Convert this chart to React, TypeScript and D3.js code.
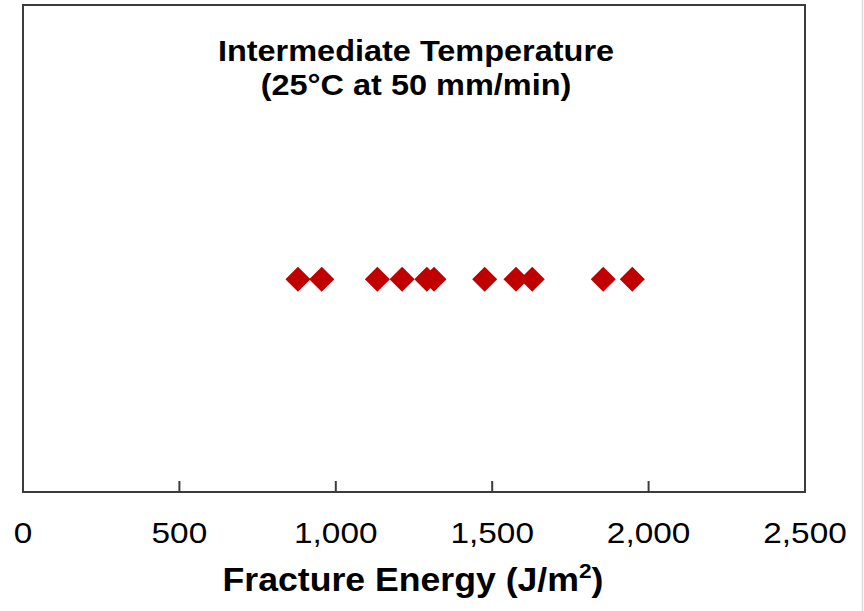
import React from "react";
import * as d3 from "d3";

const energies = [879, 955, 1133, 1212, 1291, 1314, 1476, 1576, 1628, 1855, 1948];
const yLevel = [0.437];
const xTicks = [0, 500, 1000, 1500, 2000, 2500];
const titleLines = ["Intermediate Temperature", "(25°C at 50 mm/min)"];

const W = 864;
const H = 611;
const M = { left: 23, right: 805, top: 5, bottom: 492 };

function sx(cx: number, k: number) {
  return `translate(${cx},0) scale(${k},1) translate(${-cx},0)`;
}

export default function App() {
  const x = d3.scaleLinear().domain([0, 2500]).range([M.left, M.right]);
  const y = d3.scaleLinear().domain([0, 1]).range([M.bottom, M.top]);
  const fmt = d3.format(",");
  const sym = d3.symbol().type(d3.symbolSquare).size(313)();
  const font = "'Liberation Sans', Arial, sans-serif";
  return (
    <svg
      width={W}
      height={H}
      style={{ position: "absolute", left: 0, top: 0, background: "#fff" }}
      fontFamily={font}
    >
      <rect x={0} y={0} width={W} height={H} fill="#fff" />
      <line x1={862.5} x2={862.5} y1={0} y2={H} stroke="#dcdcdc" strokeWidth={1.5} />
      <rect
        x={M.left}
        y={M.top}
        width={M.right - M.left}
        height={M.bottom - M.top}
        fill="none"
        stroke="#3c3c3c"
        strokeWidth={2}
      />
      {xTicks.slice(1, -1).map((t) => (
        <line key={t} x1={x(t)} x2={x(t)} y1={M.bottom} y2={M.bottom - 11} stroke="#3c3c3c" strokeWidth={2} />
      ))}
      {xTicks.map((t) => (
        <text key={t} x={x(t)} y={543} textAnchor="middle" fontSize={29} fill="#000"
          transform={sx(x(t), 1.15)}>
          {fmt(t)}
        </text>
      ))}
      {energies.map((e, i) => (
        <path
          key={i}
          d={sym as string}
          transform={`translate(${x(e)},${y(yLevel[0])}) rotate(45)`}
          fill="#C00000"
        />
      ))}
      {titleLines.map((l, i) => (
        <text key={i} x={416} y={61 + i * 34} textAnchor="middle" fontSize={29} fontWeight="bold" fill="#000"
          transform={sx(416, 1.12)}>
          {l}
        </text>
      ))}
      <text x={413} y={591} textAnchor="middle" fontSize={33} fontWeight="bold" fill="#000"
        transform={sx(413, 1.08)}>
        Fracture Energy (J/m
        <tspan fontSize={21} dy={-13}>2</tspan>
        <tspan dy={13}>)</tspan>
      </text>
    </svg>
  );
}
